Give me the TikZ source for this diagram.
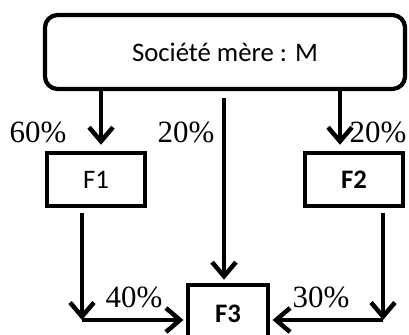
\documentclass[tikz,border=0pt]{standalone}
\usepackage{fontspec}
\setmainfont{Liberation Serif}
\newfontfamily\boxfont{Carlito}
\usetikzlibrary{arrows.meta}

\tikzset{
    boite/.style={draw, line width=3pt, inner sep=0pt, font=\boxfont\fontsize{19}{22}\selectfont},
    fleche/.style={line width=3.2pt, -{Straight Barb[length=10pt, width=17pt]}},
    taux/.style={anchor=base, inner sep=0pt, font=\fontsize{22}{26}\selectfont}
}

\begin{document}
\begin{tikzpicture}[x=0.025cm, y=-0.025cm]
    \useasboundingbox (0,0) rectangle (409,335);

    \node[boite, rounded corners=9pt, minimum width=9cm, minimum height=1.85cm] (M) at (225,52) {Société mère : M};
    \node[boite, minimum width=2.45cm, minimum height=1.33cm] (F1) at (96,179.5) {F1};
    \node[boite, minimum width=2.45cm, minimum height=1.33cm] (F2) at (354,179.5) {\bfseries F2};
    \node[boite, minimum width=2cm, minimum height=1.45cm] (F3) at (228,314) {\bfseries F3};

    \coordinate (a1) at ([xshift=0.125cm]F1.north);
    \coordinate (a2) at ([xshift=-0.35cm]F2.north);
    \coordinate (c1) at (82,320);
    \coordinate (c2) at (383,320);

    \draw[fleche, shorten >=0.15cm] (M.south -| a1) -- (a1);
    \draw[fleche, shorten >=0.15cm] (M.south -| a2) -- (a2);
    \draw[fleche, shorten <=0.18cm, shorten >=0.08cm] (M.south -| 224,0) -- (F3.north -| 224,0);
    \draw[fleche, shorten <=0.13cm] (F1.south -| c1) -- (c1);
    \draw[fleche, shorten >=0.06cm] (c1) -- (c1 -| F3.west);
    \draw[fleche, shorten <=0.13cm] (F2.south -| c2) -- (c2);
    \draw[fleche, shorten >=0.06cm] (c2) -- (c2 -| F3.east);

    \foreach \t/\x/\y [count=\i] in {60/38/142, 20/186/142, 20/378/142, 40/134/307, 30/321/307}
        \node[taux] (p\i) at (\x,\y) {\t\%};
\end{tikzpicture}
\end{document}
